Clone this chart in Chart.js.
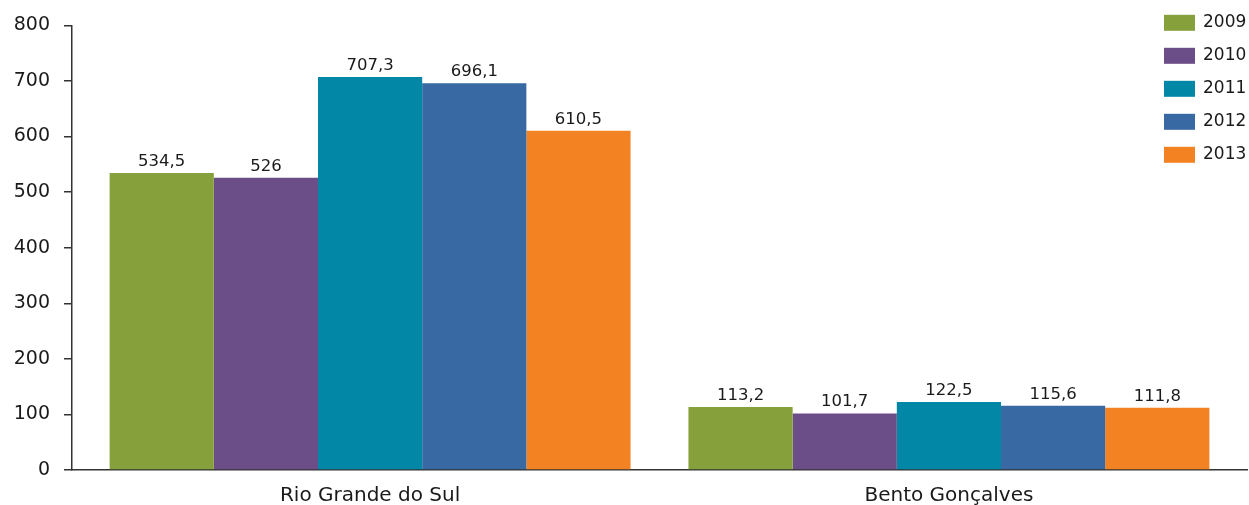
<!DOCTYPE html>
<html>
<head>
<meta charset="utf-8">
<script src="https://cdn.jsdelivr.net/npm/chart.js@4/dist/chart.umd.min.js"></script>
<style>
  html, body { margin: 0; padding: 0; background: #fff; }
  #wrap { width: 1249px; height: 505px; }
</style>
</head>
<body>
<div id="wrap"><canvas id="myChart"></canvas></div>
<script>
const categories = ['Rio Grande do Sul', 'Bento Gonçalves'];
const years = ['2009', '2010', '2011', '2012', '2013'];
const values2009 = [534.5, 113.2];
const values2010 = [526, 101.7];
const values2011 = [707.3, 122.5];
const values2012 = [696.1, 115.6];
const values2013 = [610.5, 111.8];
const yTicks = [0, 100, 200, 300, 400, 500, 600, 700, 800];

const seriesValues = [values2009, values2010, values2011, values2012, values2013];
const colors = ['#86a03c', '#6b4e87', '#0288a6', '#3869a3', '#f28222'];

const FONT = '"DejaVu Sans", sans-serif';
const TEXT = '#1a1a1a';

// value labels above each bar, with a decimal comma
const valueLabels = {
    id: 'valueLabels',
    afterDatasetsDraw(chart) {
        const ctx = chart.ctx;
        ctx.save();
        ctx.font = '16.5px ' + FONT;
        ctx.fillStyle = TEXT;
        ctx.textAlign = 'center';
        ctx.textBaseline = 'alphabetic';
        chart.data.datasets.forEach((ds, i) => {
            chart.getDatasetMeta(i).data.forEach((bar, j) => {
                const txt = String(ds.data[j].y).replace('.', ',');
                ctx.fillText(txt, bar.x, bar.y - 7);
            });
        });
        ctx.restore();
    }
};

// legend stacked in the top right corner
const cornerLegend = {
    id: 'cornerLegend',
    afterDraw(chart) {
        const ctx = chart.ctx;
        ctx.save();
        ctx.font = '17px ' + FONT;
        ctx.textBaseline = 'middle';
        ctx.textAlign = 'left';
        chart.data.datasets.forEach((ds, i) => {
            const cy = 22.8 + i * 33;
            ctx.fillStyle = ds.backgroundColor;
            ctx.fillRect(1164, cy - 8, 31, 16);
            ctx.fillStyle = TEXT;
            ctx.fillText(ds.label, 1203, cy);
        });
        ctx.restore();
    }
};

const ctx = document.getElementById('myChart');
new Chart(ctx.getContext('2d'), {
    type: 'bar',
    data: {
        datasets: years.map((y, i) => ({
            label: y,
            data: seriesValues[i].map((v, k) => ({ x: k, y: v })),
            backgroundColor: colors[i],
            borderWidth: 0,
            categoryPercentage: 0.9,
            barPercentage: 1.0
        }))
    },
    options: {
        responsive: true,
        maintainAspectRatio: false,
        animation: false,
        layout: { padding: { top: 15, right: 2, left: 0, bottom: 0 } },
        plugins: {
            legend: { display: false },
            tooltip: { enabled: false }
        },
        scales: {
            x: {
                type: 'linear',
                offset: false,
                min: -0.515,
                max: 1.515,
                afterBuildTicks(scale) { scale.ticks = categories.map((c, k) => ({ value: k })); },
                grid: { display: false },
                border: { color: '#333', width: 1.5 },
                ticks: {
                    color: TEXT,
                    font: { size: 20, family: FONT },
                    padding: 6,
                    maxRotation: 0,
                    autoSkip: false,
                    callback: (v) => categories[v]
                },
                afterFit(scale) { scale.height = 35; }
            },
            y: {
                min: 0,
                max: 800,
                afterBuildTicks(scale) { scale.ticks = yTicks.map(v => ({ value: v })); },
                grid: { display: true, drawOnChartArea: false, drawTicks: true, tickLength: 8, tickColor: '#333', lineWidth: 1.5 },
                border: { color: '#333', width: 1.5 },
                ticks: { color: TEXT, font: { size: 19, family: FONT }, padding: 14 },
                afterFit(scale) { scale.width = 72; }
            }
        }
    },
    plugins: [valueLabels, cornerLegend]
});
</script>
</body>
</html>
